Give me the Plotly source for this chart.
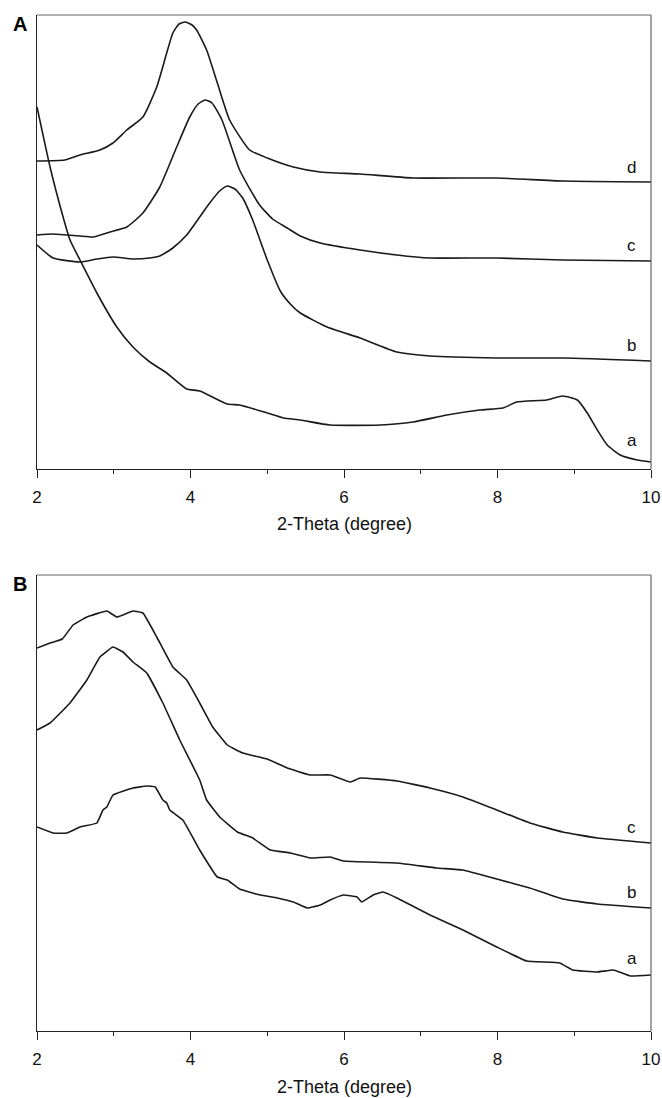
import plotly.graph_objects as go

# ---------------- Panel A data (2-Theta in degrees, intensity in arbitrary units)
a_A_x = [2.00, 2.17, 2.34, 2.43, 2.56, 2.78, 3.04, 3.25, 3.47, 3.69, 3.95, 4.12, 4.48, 4.64, 5.00, 5.21, 5.43, 5.82,
         6.47, 6.90, 7.34, 7.77, 8.07, 8.25, 8.64, 8.85, 9.04, 9.17, 9.30, 9.43, 9.60, 9.82, 10.00]
a_A_y = [362, 302, 252, 229, 209, 176, 142, 122, 107, 96, 80, 78, 65, 64, 56, 51, 49, 44,
         44, 47, 54, 59, 61, 67, 69, 73, 69, 56, 39, 24, 14, 9, 7]

b_A_x = [2.00, 2.21, 2.56, 2.78, 2.99, 3.25, 3.47, 3.60, 3.77, 3.95, 4.12, 4.25, 4.38, 4.48, 4.58, 4.68, 4.81,
         5.00, 5.17, 5.30, 5.43, 5.78, 6.21, 6.69, 7.12, 7.99, 8.85, 10.00]
b_A_y = [224, 211, 207, 210, 212, 210, 211, 213, 221, 234, 252, 266, 278, 283, 280, 271, 249,
         209, 178, 165, 156, 142, 131, 117, 113, 111, 111, 108]

c_A_x = [2.00, 2.20, 2.39, 2.56, 2.73, 2.95, 3.17, 3.38, 3.60, 3.82, 3.99, 4.10, 4.19, 4.28, 4.41, 4.64, 4.90,
         5.07, 5.26, 5.43, 5.69, 6.21, 6.69, 7.12, 7.99, 8.85, 10.00]
c_A_y = [234, 235, 234, 233, 232, 237, 242, 256, 282, 322, 352, 365, 369, 366, 349, 299, 264,
         250, 241, 233, 226, 219, 214, 211, 211, 209, 208]

d_A_x = [2.00, 2.36, 2.56, 2.82, 2.99, 3.17, 3.38, 3.56, 3.69, 3.77, 3.85, 3.93, 4.02, 4.08, 4.21, 4.35, 4.51,
         4.77, 5.00, 5.34, 5.69, 6.21, 6.90, 7.99, 8.85, 10.00]
d_A_y = [308, 309, 314, 319, 326, 339, 352, 382, 416, 436, 445, 447, 444, 439, 419, 386, 349,
         319, 311, 302, 297, 295, 291, 291, 288, 287]

# ---------------- Panel B data
a_B_x = [2.00, 2.21, 2.39, 2.56, 2.78, 2.86, 2.91, 2.99, 3.25, 3.43, 3.54, 3.64, 3.69, 3.73, 3.90, 4.12, 4.35,
         4.48, 4.64, 4.91, 5.13, 5.34, 5.52, 5.69, 5.82, 5.99, 6.17, 6.23, 6.38, 6.51, 6.69, 7.12, 7.55, 7.99,
         8.38, 8.81, 8.98, 9.30, 9.51, 9.73, 10.00]
a_B_y = [204, 198, 198, 204, 208, 221, 224, 236, 243, 245, 244, 231, 228, 221, 211, 181, 154,
         151, 142, 136, 133, 129, 123, 126, 131, 136, 134, 129, 136, 139, 133, 116, 101, 84,
         70, 68, 61, 59, 61, 55, 56]

b_B_x = [2.00, 2.17, 2.43, 2.65, 2.82, 2.99, 3.12, 3.25, 3.43, 3.64, 3.86, 4.12, 4.21, 4.38, 4.61, 4.81, 5.04,
         5.30, 5.56, 5.82, 5.99, 6.69, 7.21, 7.55, 7.99, 8.42, 8.85, 9.30, 10.00]
b_B_y = [301, 308, 328, 351, 374, 384, 379, 369, 358, 328, 291, 251, 231, 214, 199, 193, 181,
         178, 173, 174, 170, 168, 163, 161, 152, 143, 132, 127, 123]

c_B_x = [2.00, 2.17, 2.33, 2.47, 2.65, 2.91, 3.04, 3.25, 3.38, 3.56, 3.77, 3.95, 4.12, 4.29, 4.48, 4.68, 5.00,
         5.26, 5.56, 5.82, 6.08, 6.21, 6.69, 7.12, 7.55, 7.99, 8.42, 8.85, 9.30, 10.00]
c_B_y = [383, 388, 392, 406, 414, 420, 414, 420, 418, 394, 364, 351, 328, 304, 286, 278, 272,
         263, 256, 256, 249, 253, 250, 243, 234, 221, 208, 199, 193, 188]

major_ticks = [2, 4, 6, 8, 10]
minor_ticks = [3, 5, 7, 9]
x_title = "2-Theta (degree)"

W, H = 662, 1098
px = lambda v: v / W
py = lambda v: 1 - v / H

fig = go.Figure()
line = dict(color="#1a1a1a", width=1.6)

for xs, ys in [(a_A_x, a_A_y), (b_A_x, b_A_y), (c_A_x, c_A_y), (d_A_x, d_A_y)]:
    fig.add_trace(go.Scatter(x=xs, y=ys, mode="lines", line=dict(line, shape="spline", smoothing=0.5),
                             xaxis="x", yaxis="y", showlegend=False, hoverinfo="skip"))
for xs, ys in [(a_B_x, a_B_y), (b_B_x, b_B_y), (c_B_x, c_B_y)]:
    fig.add_trace(go.Scatter(x=xs, y=ys, mode="lines", line=dict(line, shape="spline", smoothing=0.3),
                             xaxis="x2", yaxis="y2", showlegend=False, hoverinfo="skip"))

FONT = "Liberation Sans, Arial"
xdom = [px(37), px(651)]
axis_common = dict(range=[2, 10], tickmode="array", tickvals=major_ticks,
                   ticks="outside", ticklen=8, tickwidth=1, tickcolor="#222", ticklabelstandoff=4,
                   minor=dict(tickmode="array", tickvals=minor_ticks, ticks="outside", ticklen=4,
                              tickwidth=1, tickcolor="#222", showgrid=False),
                   showline=True, linecolor="#222", linewidth=1.2, showgrid=False, zeroline=False,
                   tickfont=dict(family=FONT, size=17, color="#111"), domain=xdom)
yaxis_common = dict(showline=True, linecolor="#222", linewidth=1.2, showgrid=False, zeroline=False,
                    showticklabels=False, ticks="")

fig.update_layout(
    width=W, height=H, margin=dict(l=0, r=0, t=0, b=0, autoexpand=False),
    paper_bgcolor="white", plot_bgcolor="white",
    xaxis=dict(axis_common, anchor="y"),
    yaxis=dict(yaxis_common, range=[0, 454], domain=[py(469), py(15)], anchor="x"),
    xaxis2=dict(axis_common, anchor="y2"),
    yaxis2=dict(yaxis_common, range=[0, 456], domain=[py(1031), py(575)], anchor="x2"),
)

# frame top/right lines (gray)
for top, bot in [(15, 469), (575, 1031)]:
    fig.add_shape(type="line", xref="paper", yref="paper", x0=px(37), x1=px(651), y0=py(top), y1=py(top),
                  line=dict(color="#666", width=1.2))
    fig.add_shape(type="line", xref="paper", yref="paper", x0=px(651), x1=px(651), y0=py(top), y1=py(bot),
                  line=dict(color="#666", width=1.2))

font_lbl = dict(family=FONT, size=17, color="#111")
for lab, xv, yv in [("d", 9.75, 302), ("c", 9.75, 224), ("b", 9.75, 124), ("a", 9.75, 29)]:
    fig.add_annotation(x=xv, y=yv, xref="x", yref="y", text=lab, showarrow=False, font=font_lbl,
                       xanchor="center", yanchor="middle")
for lab, xv, yv in [("c", 9.75, 204), ("b", 9.75, 139), ("a", 9.75, 73)]:
    fig.add_annotation(x=xv, y=yv, xref="x2", yref="y2", text=lab, showarrow=False, font=font_lbl,
                       xanchor="center", yanchor="middle")

for lab, yc in [("A", 24), ("B", 584)]:
    fig.add_annotation(x=px(20), y=py(yc), xref="paper", yref="paper", text="<b>%s</b>" % lab,
                       showarrow=False, xanchor="center", yanchor="middle",
                       font=dict(family=FONT, size=20, color="#000"))
for yc in [524, 1087]:
    fig.add_annotation(x=px(344), y=py(yc), xref="paper", yref="paper", text=x_title, showarrow=False,
                       xanchor="center", yanchor="middle",
                       font=dict(family=FONT, size=18, color="#111"))

fig.write_html("out.html", config={"displayModeBar": False},
               post_script="document.body.style.margin='0px';")
